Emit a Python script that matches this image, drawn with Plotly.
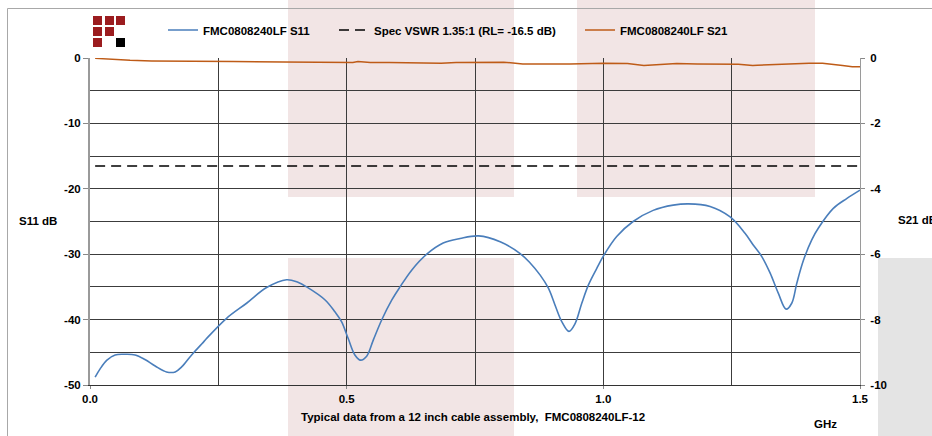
import plotly.graph_objects as go

# ---------------- data ----------------
s11_freq = [0.010, 0.020, 0.033, 0.049, 0.068, 0.088, 0.107, 0.127, 0.149, 0.166,
            0.179, 0.198, 0.218, 0.227, 0.266, 0.305, 0.344, 0.383, 0.405, 0.422,
            0.458, 0.477, 0.490, 0.503, 0.516, 0.527, 0.539, 0.552, 0.568, 0.588,
            0.604, 0.627, 0.656, 0.688, 0.721, 0.757, 0.799, 0.838, 0.857, 0.877,
            0.893, 0.906, 0.919, 0.933, 0.945, 0.958, 0.971, 0.987, 1.000, 1.026,
            1.058, 1.097, 1.136, 1.166, 1.208, 1.247, 1.276, 1.292, 1.309, 1.325,
            1.341, 1.356, 1.367, 1.377, 1.390, 1.406, 1.419, 1.448, 1.474, 1.500]
s11_db = [-48.8, -47.5, -46.2, -45.4, -45.3, -45.4, -46.1, -47.1, -48.0, -48.0,
          -47.2, -45.4, -43.7, -42.9, -39.8, -37.5, -35.1, -33.9, -34.3, -35.0,
          -37.0, -38.8, -40.3, -42.9, -45.4, -46.2, -45.6, -43.1, -40.1, -37.0,
          -35.0, -32.4, -30.0, -28.3, -27.6, -27.2, -28.1, -29.9, -31.3, -33.2,
          -35.2, -37.8, -40.3, -41.8, -40.6, -37.5, -34.7, -32.2, -30.3, -27.3,
          -25.0, -23.3, -22.5, -22.3, -22.7, -24.3, -26.8, -28.6, -30.4, -32.9,
          -36.0, -38.4, -37.5, -34.4, -30.9, -27.8, -26.0, -23.0, -21.5, -20.2]

s21_freq = [0.010, 0.039, 0.078, 0.120, 0.273, 0.279, 0.376, 0.512, 0.522, 0.546,
            0.583, 0.684, 0.713, 0.741, 0.785, 0.806, 0.843, 0.857, 0.909, 0.935,
            1.000, 1.047, 1.079, 1.096, 1.143, 1.183, 1.263, 1.291, 1.300, 1.401,
            1.427, 1.466, 1.485, 1.500]
s21_db = [-0.01, -0.04, -0.07, -0.09, -0.09, -0.11, -0.12, -0.14, -0.11, -0.14,
          -0.14, -0.16, -0.14, -0.14, -0.13, -0.13, -0.18, -0.18, -0.19, -0.18,
          -0.16, -0.17, -0.23, -0.22, -0.17, -0.18, -0.19, -0.23, -0.22, -0.16,
          -0.16, -0.23, -0.27, -0.27]

spec_freq = [0.01, 1.5]
spec_db = [-16.5, -16.5]

x_ticks = [0.0, 0.5, 1.0, 1.5]
y_ticks = [0, -10, -20, -30, -40, -50]
y2_ticks = [0, -2, -4, -6, -8, -10]

# ---------------- layout geometry (pixels) ----------------
W, H = 932, 436
L, R, T, B = 90, 860, 58, 385


def px(x):
    return (x - L) / (R - L)


def py(y):
    return (B - y) / (B - T)


FONT = "Liberation Sans, Arial, sans-serif"
FS = 11.5
BLUE = "#4A7EBB"
BROWN = "#BE5B17"
GRID = "#3c3c3c"
PINK = "#f2e5e5"
RED = "#9b1c1f"

fig = go.Figure()

fig.add_trace(go.Scatter(
    x=s11_freq, y=s11_db, mode="lines", name="FMC0808240LF S11",
    line=dict(color=BLUE, width=1.6, shape="spline", smoothing=1.0),
    legend="legend"))
fig.add_trace(go.Scatter(
    x=spec_freq, y=spec_db, mode="lines", name="Spec VSWR 1.35:1 (RL= -16.5 dB)",
    line=dict(color="#000000", width=1.5, dash="10px,6px"),
    legend="legend2"))
fig.add_trace(go.Scatter(
    x=s21_freq, y=s21_db, mode="lines", name="FMC0808240LF S21",
    line=dict(color=BROWN, width=1.5),
    yaxis="y2", legend="legend3"))

shapes = []


def rect(x0, y0, x1, y1, color, layer="below"):
    shapes.append(dict(type="rect", xref="paper", yref="paper",
                       x0=px(x0), x1=px(x1), y0=py(y1), y1=py(y0),
                       fillcolor=color, layer=layer, line=dict(width=0)))


# background decorations (page behind the chart)
rect(288, 0, 514, 197, PINK)
rect(288, 258, 514, 436, PINK)
rect(577, 0, 815, 197, PINK)
rect(878, 258, 932, 436, "#e4e4e4")

# chart frame lines
shapes.append(dict(type="line", xref="paper", yref="paper",
                   x0=px(7.5), x1=px(7.5), y0=py(8.5), y1=py(436),
                   line=dict(color="#a8a8a8", width=1), layer="below"))
shapes.append(dict(type="line", xref="paper", yref="paper",
                   x0=px(7.5), x1=px(932), y0=py(8.5), y1=py(8.5),
                   line=dict(color="#a8a8a8", width=1), layer="below"))

# logo
for (cx, cy, col) in [(93, 16, RED), (105, 16, RED), (116, 16, RED),
                      (93, 27, RED), (105, 27, RED),
                      (93, 38, RED), (116, 38, "#000000")]:
    rect(cx, cy, cx + 9, cy + 9, col, layer="above")

tf = dict(family=FONT, size=FS, weight="bold", color="#000000")

fig.update_layout(
    width=W, height=H,
    margin=dict(l=L, r=W - R, t=T, b=H - B, autoexpand=False),
    paper_bgcolor="white",
    plot_bgcolor="rgba(0,0,0,0)",
    font=tf,
    shapes=shapes,
    xaxis=dict(
        range=[0, 1.5], tickvals=x_ticks, ticktext=[f"{v:.1f}" for v in x_ticks],
        showgrid=False, zeroline=False,
        showline=True, linecolor="#333333", linewidth=1,
        ticks="outside", ticklen=3, tickcolor="#888888",
        minor=dict(dtick=0.25, showgrid=True, gridcolor=GRID, gridwidth=1),
        tickfont=tf,
    ),
    yaxis=dict(
        range=[-50, 0], tickvals=y_ticks, ticktext=[str(v) for v in y_ticks],
        showgrid=True, gridcolor=GRID, gridwidth=1, zeroline=False,
        showline=True, linecolor="#9a9a9a", linewidth=2,
        ticks="outside", ticklen=5, tickcolor="#888888",
        minor=dict(dtick=5, showgrid=True, gridcolor=GRID, gridwidth=1),
        tickfont=tf,
    ),
    yaxis2=dict(
        range=[-10, 0], tickvals=y2_ticks, ticktext=[str(v) for v in y2_ticks],
        overlaying="y", side="right",
        showgrid=False, zeroline=False,
        showline=True, linecolor="#9a9a9a", linewidth=1,
        ticks="outside", ticklen=4, tickcolor="#888888",
        ticklabelstandoff=3,
        tickfont=tf,
    ),
    legend=dict(x=px(163), y=py(30), xanchor="left", yanchor="middle",
                orientation="h", bgcolor="rgba(0,0,0,0)", font=tf),
    legend2=dict(x=px(334), y=py(30), xanchor="left", yanchor="middle",
                 orientation="h", bgcolor="rgba(0,0,0,0)", font=tf),
    legend3=dict(x=px(580), y=py(30), xanchor="left", yanchor="middle",
                 orientation="h", bgcolor="rgba(0,0,0,0)", font=tf),
    showlegend=True,
    annotations=[
        dict(text="S11 dB", xref="paper", yref="paper", x=px(17), y=py(221),
             xanchor="left", yanchor="middle", showarrow=False, font=tf),
        dict(text="S21 dB", xref="paper", yref="paper", x=px(896), y=py(220),
             xanchor="left", yanchor="middle", showarrow=False, font=tf),
        dict(text="Typical data from a 12 inch cable assembly,  FMC0808240LF-12",
             xref="paper", yref="paper", x=px(473), y=py(417),
             xanchor="center", yanchor="middle", showarrow=False, font=tf),
        dict(text="GHz", xref="paper", yref="paper", x=px(825), y=py(424),
             xanchor="center", yanchor="middle", showarrow=False, font=tf),
    ],
)

fig.write_html("out.html",
               config=dict(displayModeBar=False),
               post_script="document.body.style.margin='0';"
                           "document.body.style.overflow='hidden';")
